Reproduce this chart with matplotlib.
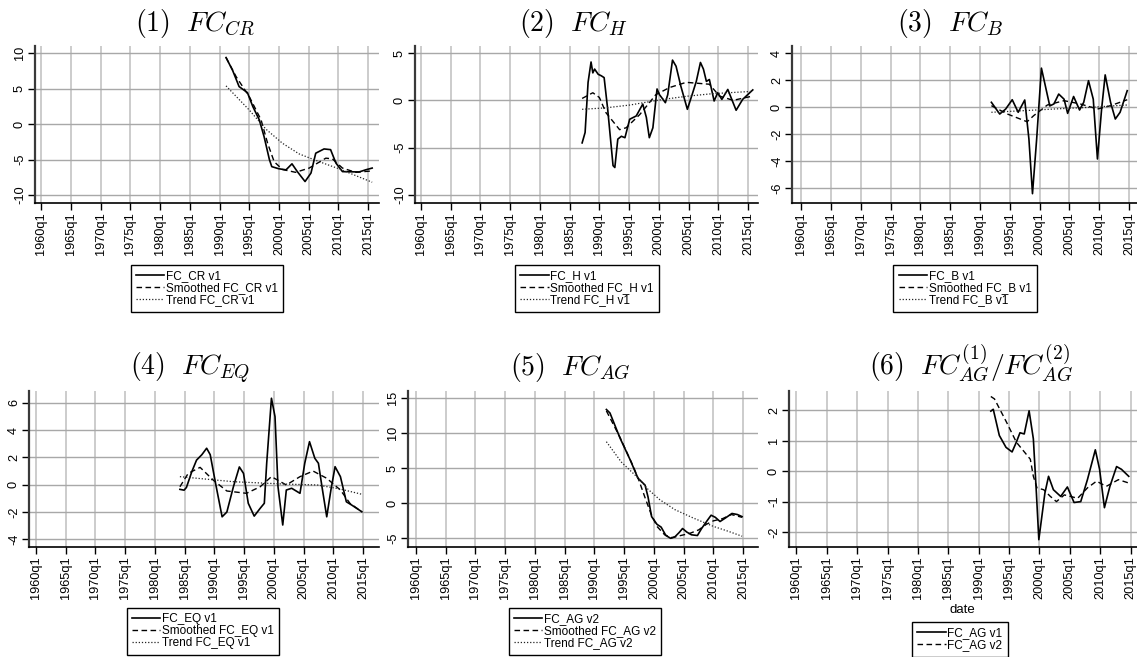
import numpy as np
import matplotlib.pyplot as plt

plt.rcParams['font.family'] = ['Liberation Sans', 'DejaVu Sans']
plt.rcParams['mathtext.fontset'] = 'cm'

# tamaño de la figura en pixeles
W, H = 1137, 657

# --------------------------------------------------------------
# Datos (fecha en años decimales)
# (1) FC_CR
cr_t = [1991.1, 1992.2, 1993.3, 1994.7, 1995.6, 1996.7, 1997.5, 1998.4, 1998.8, 2000.0,
        2001.2, 2002.2, 2003.1, 2004.4, 2005.4, 2006.2, 2007.6, 2008.7, 2009.6, 2010.7,
        2013.5, 2014.6, 2015.7]
cr_v = [9.4, 7.6, 5.3, 4.45, 2.5, 0.6, -1.75, -5.0, -6.0, -6.3,
        -6.45, -5.6, -6.7, -8.1, -6.9, -4.1, -3.5, -3.6, -5.5, -6.7,
        -6.75, -6.45, -6.2]
cr_s_t = [1991.1, 1992.8, 1995.0, 1997.0, 1998.1, 1999.2, 2000.6, 2002.8, 2005.1, 2007.9,
          2009.0, 2010.7, 2012.9, 2015.7]
cr_s_v = [9.4, 6.7, 3.9, 0.6, -2.7, -5.3, -6.4, -6.8, -6.2, -4.8,
          -4.9, -6.2, -6.8, -6.6]
cr_tr_t = [1991.1, 1995.0, 1997.8, 2000.6, 2003.4, 2006.8, 2010.1, 2015.7]
cr_tr_v = [5.4, 2.0, -0.7, -2.7, -4.2, -5.3, -6.3, -8.2]

# (2) FC_H
h_t = [1987.1, 1987.6, 1988.1, 1988.6, 1988.9, 1989.2, 1989.8, 1990.3, 1990.8, 1991.4,
       1992.3, 1992.6, 1993.1, 1993.7, 1994.3, 1995.1, 1996.2, 1997.3, 1997.9, 1998.4,
       1999.0, 1999.7, 2000.1, 2000.7, 2001.1, 2001.5, 2002.3, 2002.9, 2003.7, 2004.8,
       2005.7, 2006.3, 2007.0, 2007.5, 2008.0, 2008.5, 2009.3, 2009.9, 2010.6, 2011.6,
       2013.0, 2014.1, 2015.8]
h_v = [-4.5, -3.4, 1.9, 4.05, 2.9, 3.3, 2.75, 2.6, 2.4, -0.95,
       -6.9, -7.1, -4.1, -3.8, -3.95, -2.0, -1.65, -0.4, -1.8, -3.95,
       -2.9, 1.2, 0.6, 0.1, -0.25, 0.6, 4.25, 3.6, 1.5, -0.95,
       0.8, 2.0, 4.0, 3.3, 2.0, 2.2, -0.07, 0.8, 0.1, 1.15,
       -1.05, 0.1, 1.1]
h_s_t = [1987.1, 1988.9, 1990.0, 1991.1, 1993.4, 1994.5, 1996.8, 1999.5, 2001.8, 2004.6,
         2008.5, 2010.2, 2012.5, 2015.8]
h_s_v = [0.2, 0.8, 0.3, -1.3, -3.1, -2.9, -1.5, 0.6, 1.35, 1.9,
         1.7, 0.45, 0.0, 0.45]
h_tr_t = [1987.1, 1991.0, 1995.1, 2000.7, 2005.0, 2009.0, 2015.8]
h_tr_v = [-0.95, -0.8, -0.5, 0.1, 0.45, 0.7, 0.95]

# (3) FC_B
b_t = [1991.9, 1993.3, 1994.3, 1995.4, 1996.4, 1997.5, 1998.2, 1998.8, 1999.5, 2000.3,
       2001.2, 2001.7, 2002.4, 2003.2, 2004.1, 2004.7, 2005.7, 2006.7, 2007.4, 2008.2,
       2009.0, 2009.7, 2010.4, 2011.0, 2011.9, 2012.7, 2013.5, 2014.7]
b_v = [0.37, -0.5, -0.13, 0.56, -0.37, 0.54, -2.35, -6.4, -2.35, 2.9,
       1.1, 0.1, 0.25, 0.98, 0.6, -0.45, 0.8, -0.2, 0.37, 1.97,
       0.6, -3.83, -0.13, 2.4, 0.37, -0.87, -0.37, 1.23]
b_s_t = [1991.9, 1994.6, 1997.9, 1999.0, 2001.3, 2004.1, 2006.8, 2009.7, 2011.9, 2014.7]
b_s_v = [0.12, -0.5, -1.07, -0.62, 0.17, 0.49, 0.25, -0.13, 0.12, 0.56]
b_tr_t = [1991.9, 1996.0, 2000.3, 2004.5, 2008.6, 2014.7]
b_tr_v = [-0.37, -0.28, -0.18, -0.08, 0.0, 0.17]

# (4) FC_EQ
eq_t = [1984.2, 1984.9, 1985.3, 1986.2, 1987.0, 1987.9, 1988.7, 1989.3, 1990.2, 1991.3,
        1992.1, 1993.2, 1994.2, 1994.9, 1995.7, 1996.7, 1997.7, 1998.4, 1998.8, 1999.6,
        2000.2, 2000.7, 2001.5, 2002.1, 2003.0, 2004.4, 2005.2, 2006.0, 2006.9, 2007.5,
        2008.1, 2008.9, 2009.6, 2010.3, 2011.2, 2012.2, 2013.1, 2014.8]
eq_v = [-0.34, -0.4, -0.2, 0.95, 1.8, 2.2, 2.67, 2.2, 0.1, -2.35,
        -2.0, -0.15, 1.3, 0.83, -1.36, -2.3, -1.73, -1.36, 1.57, 6.33,
        4.98, -0.15, -2.95, -0.39, -0.26, -0.63, 1.57, 3.15, 1.93, 1.57,
        -0.15, -2.35, -0.39, 1.32, 0.59, -1.25, -1.49, -1.98]
eq_s_t = [1984.2, 1985.6, 1987.6, 1989.8, 1992.1, 1995.4, 1997.7, 1999.6, 2002.1, 2004.4,
          2006.6, 2008.9, 2011.2, 2012.8, 2014.8]
eq_s_v = [-0.15, 0.83, 1.27, 0.34, -0.46, -0.63, -0.15, 0.59, -0.02, 0.59,
          1.0, 0.47, -0.39, -1.36, -1.98]
eq_tr_t = [1984.2, 1993.2, 2001.6, 2007.3, 2011.0, 2014.8]
eq_tr_v = [0.59, 0.22, 0.05, -0.02, -0.3, -0.7]

# (5) FC_AG v2
ag_t = [1992.0, 1992.6, 1994.3, 1996.0, 1997.3, 1998.5, 1999.0, 1999.6, 2000.5, 2001.2,
        2002.0, 2002.8, 2003.5, 2004.2, 2004.8, 2005.5, 2006.3, 2007.3, 2008.0, 2009.0,
        2009.6, 2010.3, 2011.1, 2012.0, 2013.1, 2014.0, 2014.8]
ag_v = [13.4, 12.9, 9.3, 6.2, 3.6, 2.6, 0.9, -1.9, -3.0, -3.4,
        -4.6, -5.0, -4.8, -4.2, -3.6, -4.1, -4.5, -4.6, -3.6, -2.4,
        -1.7, -2.0, -2.6, -2.1, -1.45, -1.6, -1.9]
ag_s_t = [1992.0, 1994.3, 1996.5, 1997.5, 1998.5, 1999.5, 2000.5, 2001.8, 2003.0, 2004.5,
          2006.0, 2007.5, 2008.8, 2010.0, 2011.5, 2013.0, 2014.8]
ag_s_v = [13.2, 9.4, 5.3, 3.2, 0.8, -1.5, -3.3, -4.5, -4.9, -4.6,
          -4.3, -3.8, -3.0, -2.5, -2.2, -1.6, -2.0]
ag_tr_t = [1992.0, 1994.5, 1997.1, 1999.0, 2001.0, 2003.5, 2006.6, 2010.0, 2012.5, 2014.8]
ag_tr_v = [8.8, 5.9, 3.8, 2.0, 0.5, -0.9, -2.1, -3.3, -4.0, -4.7]

# (6) FC_AG v1 / v2
v1_t = [1992.0, 1992.4, 1993.4, 1994.5, 1995.5, 1996.2, 1996.8, 1997.5, 1998.3, 1999.0,
        1999.5, 1999.9, 2000.9, 2001.5, 2002.3, 2003.5, 2004.6, 2005.7, 2006.8, 2007.9,
        2009.2, 2009.9, 2010.7, 2011.6, 2012.7, 2013.5, 2014.7]
v1_v = [1.97, 2.03, 1.17, 0.78, 0.63, 0.95, 1.26, 1.22, 1.98, 1.06,
        -0.72, -2.25, -0.72, -0.17, -0.61, -0.83, -0.52, -1.03, -1.0, -0.28,
        0.7, 0.06, -1.2, -0.5, 0.15, 0.06, -0.17]
v2_t = [1992.0, 1992.6, 1994.6, 1996.2, 1997.6, 1998.5, 1999.0, 1999.6, 2000.7, 2001.8,
        2002.8, 2004.1, 2006.3, 2007.9, 2009.4, 2011.0, 2013.0, 2014.7]
v2_v = [2.45, 2.37, 1.6, 0.95, 0.61, 0.39, -0.17, -0.55, -0.61, -0.83,
        -1.0, -0.78, -0.89, -0.55, -0.33, -0.5, -0.28, -0.39]

# ejes x
anios = list(range(1960, 2016, 5))
etiquetas = [f"{a}q1" for a in anios]

SOLIDO = dict(color='black', lw=1.2, ls='-')
RAYAS = dict(color='black', lw=1.0, ls=(0, (4, 2.5)))
PUNTOS = dict(color='#222222', lw=0.9, ls=(0, (1, 1.5)))


# --------------------------------------------------------------
# Función: ejes
# Crea un eje a partir de una caja en pixeles (izq, arriba, der, abajo)
def ejes(fig, izq, arriba, der, abajo):
    return fig.add_axes([izq / W, 1 - abajo / H, (der - izq) / W, (abajo - arriba) / H])


# --------------------------------------------------------------
# Función: estilo
# Ejes al estilo Stata: rejilla gris, etiquetas giradas.
def estilo(ax, xlim, ylim, yticks):
    ax.set_xlim(xlim)
    ax.set_ylim(ylim)
    ax.set_xticks(anios)
    ax.set_xticklabels(etiquetas, rotation=90)
    ax.set_yticks(yticks)
    ax.set_yticklabels([str(v) for v in yticks], rotation=90, va='center')
    ax.xaxis.grid(True, color='#c4c4c4', lw=1.2)
    ax.yaxis.grid(True, color='#a8a8a8', lw=1.0)
    ax.set_axisbelow(True)
    ax.spines['top'].set_visible(False)
    ax.spines['right'].set_visible(False)
    ax.spines['left'].set_color('#3a3a3a')
    ax.spines['left'].set_linewidth(1.6)
    ax.spines['bottom'].set_linewidth(1.2)
    ax.tick_params(direction='out', length=5, width=1, labelsize=9.2, pad=1.5)


def leyenda(fig, lineas, textos, cx, arriba):
    leg = fig.legend(lineas, textos, loc='upper center',
                     bbox_to_anchor=(cx / W, 1 - arriba / H),
                     fancybox=False, edgecolor='black', framealpha=1,
                     fontsize=8.5, handlelength=2.4, handletextpad=0.15,
                     labelspacing=0.0, borderpad=0.45, borderaxespad=0)
    leg.get_frame().set_linewidth(1.0)


def titulo(fig, texto, cx, base):
    fig.text(cx / W, 1 - base / H, texto, ha='center', va='baseline', fontsize=20)


def tres_series(ax, t, v, st, sv, tt, tv):
    l1, = ax.plot(t, v, **SOLIDO)
    l2, = ax.plot(st, sv, **RAYAS)
    l3, = ax.plot(tt, tv, **PUNTOS)
    return [l1, l2, l3]


def main():
    fig = plt.figure(figsize=(W / 100, H / 100), dpi=100)

    # fila 1
    ax1 = ejes(fig, 35, 46, 379, 203)
    ll = tres_series(ax1, cr_t, cr_v, cr_s_t, cr_s_v, cr_tr_t, cr_tr_v)
    estilo(ax1, (1958.94, 2016.85), (-11.13, 11.03), [-10, -5, 0, 5, 10])
    titulo(fig, r"$(1)\ \ FC_{CR}$", 195, 31)
    leyenda(fig, ll, ["FC_CR v1", "Smoothed FC_CR v1", "Trend FC_CR v1"], 207, 265)

    ax2 = ejes(fig, 415, 46, 758, 203)
    ll = tres_series(ax2, h_t, h_v, h_s_t, h_s_v, h_tr_t, h_tr_v)
    estilo(ax2, (1958.99, 2016.68), (-10.85, 5.74), [-10, -5, 0, 5])
    titulo(fig, r"$(2)\ \ FC_{H}$", 573, 31)
    leyenda(fig, ll, ["FC_H v1", "Smoothed FC_H v1", "Trend FC_H v1"], 587, 265)

    ax3 = ejes(fig, 792, 46, 1137, 203)
    ll = tres_series(ax3, b_t, b_v, b_s_t, b_s_v, b_tr_t, b_tr_v)
    estilo(ax3, (1958.44, 2016.34), (-7.09, 4.54), [-6, -4, -2, 0, 2, 4])
    titulo(fig, r"$(3)\ \ FC_{B}$", 950, 31)
    leyenda(fig, ll, ["FC_B v1", "Smoothed FC_B v1", "Trend FC_B v1"], 965, 265)

    # fila 2
    ax4 = ejes(fig, 29, 391, 379, 547)
    ll = tres_series(ax4, eq_t, eq_v, eq_s_t, eq_s_v, eq_tr_t, eq_tr_v)
    estilo(ax4, (1958.82, 2017.69), (-4.56, 6.86), [-4, -2, 0, 2, 4, 6])
    titulo(fig, r"$(4)\ \ FC_{EQ}$", 190, 375)
    leyenda(fig, ll, ["FC_EQ v1", "Smoothed FC_EQ v1", "Trend FC_EQ v1"], 203, 608)

    ax5 = ejes(fig, 408, 391, 758, 547)
    ll = tres_series(ax5, ag_t, ag_v, ag_s_t, ag_s_v, ag_tr_t, ag_tr_v)
    estilo(ax5, (1958.66, 2017.48), (-6.24, 16.04), [-5, 0, 5, 10, 15])
    titulo(fig, r"$(5)\ \ FC_{AG}$", 570, 375)
    leyenda(fig, ll, ["FC_AG v2", "Smoothed FC_AG v2", "Trend FC_AG v2"], 585, 608)

    ax6 = ejes(fig, 789, 391, 1137, 547)
    l1, = ax6.plot(v1_t, v1_v, **SOLIDO)
    l2, = ax6.plot(v2_t, v2_v, **RAYAS)
    estilo(ax6, (1958.78, 2016.06), (-2.49, 2.63), [-2, -1, 0, 1, 2])
    titulo(fig, r"$(6)\ \ FC_{AG}^{(1)}/FC_{AG}^{(2)}$", 971, 375)
    fig.text(962 / W, 1 - 610 / H, "date", ha='center', va='center', fontsize=9.5)
    leyenda(fig, [l1, l2], ["FC_AG v1", "FC_AG v2"], 960, 622)

    fig.savefig("out.png", dpi=100)


if __name__ == "__main__":
    main()
